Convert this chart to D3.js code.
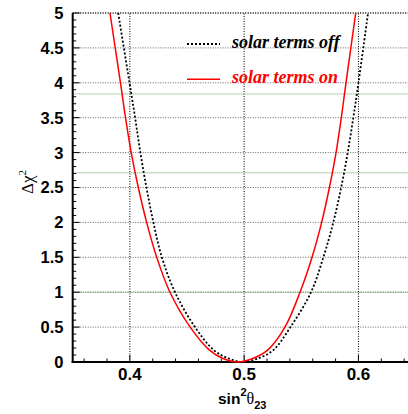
<!DOCTYPE html>
<html><head><meta charset="utf-8">
<script src="https://cdn.jsdelivr.net/npm/d3@7"></script>
<style>html,body{margin:0;padding:0;background:#fff;overflow:hidden}svg{display:block}</style>
</head><body>
<script>
// Data
const offX = [0.3898,0.3997,0.4046,0.4092,0.4145,0.4206,0.4280,0.4395,0.457,0.4735,0.4865,0.499,0.5120,0.5255,0.5405,0.5585,0.5693,0.5780,0.5849,0.5906,0.5955,0.6,0.6084];
const offY = [5,4,3.5,3,2.5,2,1.5,1,0.5,0.17,0.05,0,0.05,0.17,0.5,1,1.5,2,2.5,3,3.5,4,5];
const onX  = [0.3826,0.3918,0.3962,0.4012,0.4074,0.4147,0.4235,0.4351,0.4528,0.4697,0.4815,0.4945,0.5075,0.5205,0.5357,0.5489,0.5594,0.5678,0.5746,0.5804,0.5850,0.5891,0.5976];
const onY  = [5,4,3.5,3,2.5,2,1.5,1,0.5,0.17,0.05,0,0.05,0.17,0.5,1,1.5,2,2.5,3,3.5,4,5];
const xTicks = [0.4,0.5,0.6];
const yTicks = [0,0.5,1,1.5,2,2.5,3,3.5,4,4.5,5];
const clLevels = [1,2.71,3.84];
const legendLabels = ["solar terms off","solar terms on"];

const W = 408, H = 414;
const svg = d3.select("body").append("svg").attr("width", W).attr("height", H);
const x = d3.scaleLinear().domain([0.35,0.65]).range([72.7, 415.6]);
const y = d3.scaleLinear().domain([0,5]).range([362,13]);

// horizontal grid
svg.append("g").selectAll("line").data(yTicks.filter(d=>d>0)).join("line")
  .attr("x1", x(0.35)).attr("x2", W).attr("y1", d=>y(d)).attr("y2", d=>y(d))
  .attr("stroke", d=>d===5?"#444":"#666").attr("stroke-width", d=>d===5?2:1)
  .attr("stroke-dasharray","1,1.5");
// vertical grid
svg.append("g").selectAll("line").data(xTicks).join("line")
  .attr("x1", d=>x(d)).attr("x2", d=>x(d)).attr("y1", y(0)).attr("y2", y(5))
  .attr("stroke","#000").attr("stroke-width",1).attr("stroke-dasharray","1,1.5");
// CL lines
svg.append("g").selectAll("line").data(clLevels).join("line")
  .attr("x1", x(0.35)).attr("x2", W).attr("y1", d=>y(d)).attr("y2", d=>y(d))
  .attr("stroke","#44b844").attr("stroke-width",1).attr("stroke-dasharray","1,1");

// ticks
const yMinor = d3.range(0,5.001,0.1);
svg.append("g").selectAll("line").data(yMinor).join("line")
  .attr("x1", x(0.35)).attr("x2", d=> x(0.35) + (Math.abs(d*2-Math.round(d*2))<1e-6?7:3.5))
  .attr("y1", d=>y(d)).attr("y2", d=>y(d)).attr("stroke","#000").attr("stroke-width",1);
const xMinor = d3.range(0.36,0.66,0.02);
svg.append("g").selectAll("line").data(xMinor).join("line")
  .attr("x1", d=>x(d)).attr("x2", d=>x(d)).attr("y1", y(0))
  .attr("y2", d=> y(0) - (Math.abs(d*10-Math.round(d*10))<1e-6?7:3.5))
  .attr("stroke","#000").attr("stroke-width",1);

// axes lines
svg.append("line").attr("x1", x(0.35)).attr("x2", x(0.35)).attr("y1", y(0)+1).attr("y2", y(5))
  .attr("stroke","#000").attr("stroke-width",2);
svg.append("line").attr("x1", x(0.35)-1).attr("x2", W).attr("y1", y(0)).attr("y2", y(0))
  .attr("stroke","#000").attr("stroke-width",2);

// tick labels
svg.append("g").selectAll("text").data(yTicks).join("text")
  .attr("x", 63.5).attr("y", d=>y(d)).attr("dy","0.36em").attr("text-anchor","end")
  .attr("font-family","Liberation Sans, Arial, sans-serif").attr("font-weight","bold")
  .attr("font-size","16.5px").text(d=>d);
svg.append("g").selectAll("text").data(xTicks).join("text")
  .attr("x", d=>x(d)).attr("y", 380).attr("text-anchor","middle")
  .attr("font-family","Liberation Sans, Arial, sans-serif").attr("font-weight","bold")
  .attr("font-size","17px").text(d=>d);

// x title
const xt = svg.append("text").attr("x", 218).attr("y", 404)
  .attr("font-family","Liberation Sans, Arial, sans-serif").attr("font-weight","bold").attr("font-size","15.5px");
xt.append("tspan").text("sin");
xt.append("tspan").attr("dy", -8).attr("font-size","11px").text("2");
xt.append("tspan").attr("dy", 8).attr("font-family","Liberation Serif, serif").attr("font-weight","normal").attr("font-size","16px").text("θ");
xt.append("tspan").attr("dy", 5).attr("font-size","11px").text("23");

// y title
const yt = svg.append("text").attr("transform","translate(33,194) rotate(-90)")
  .attr("font-family","Liberation Serif, serif").attr("font-size","17px");
yt.append("tspan").text("Δχ");
yt.append("tspan").attr("dy",-7).attr("font-size","11px").text("2");

// curves
const line = d3.line().x(d=>x(d[0])).y(d=>y(d[1])).curve(d3.curveCatmullRom.alpha(0.5));
svg.append("path").datum(offX.map((v,i)=>[v,offY[i]])).attr("d", line)
  .attr("fill","none").attr("stroke","#000").attr("stroke-width",1.8).attr("stroke-dasharray","2,2");
svg.append("path").datum(onX.map((v,i)=>[v,onY[i]])).attr("d", line)
  .attr("fill","none").attr("stroke","#ff0000").attr("stroke-width",1.5);

// legend
const leg = [{c:"#000",dash:"2,2",w:1.8,y:44,ty:48},{c:"#ff0000",dash:null,w:1.5,y:79.3,ty:83}];
leg.forEach((l,i)=>{
  svg.append("line").attr("x1",187).attr("x2",220).attr("y1",l.y).attr("y2",l.y)
    .attr("stroke",l.c).attr("stroke-width",l.w).attr("stroke-dasharray",l.dash);
  svg.append("text").attr("x",232).attr("y",l.ty).attr("fill",l.c)
    .attr("font-family","Liberation Serif, serif").attr("font-weight","bold").attr("font-style","italic")
    .attr("font-size","18px").text(legendLabels[i]);
});
</script>
</body></html>
